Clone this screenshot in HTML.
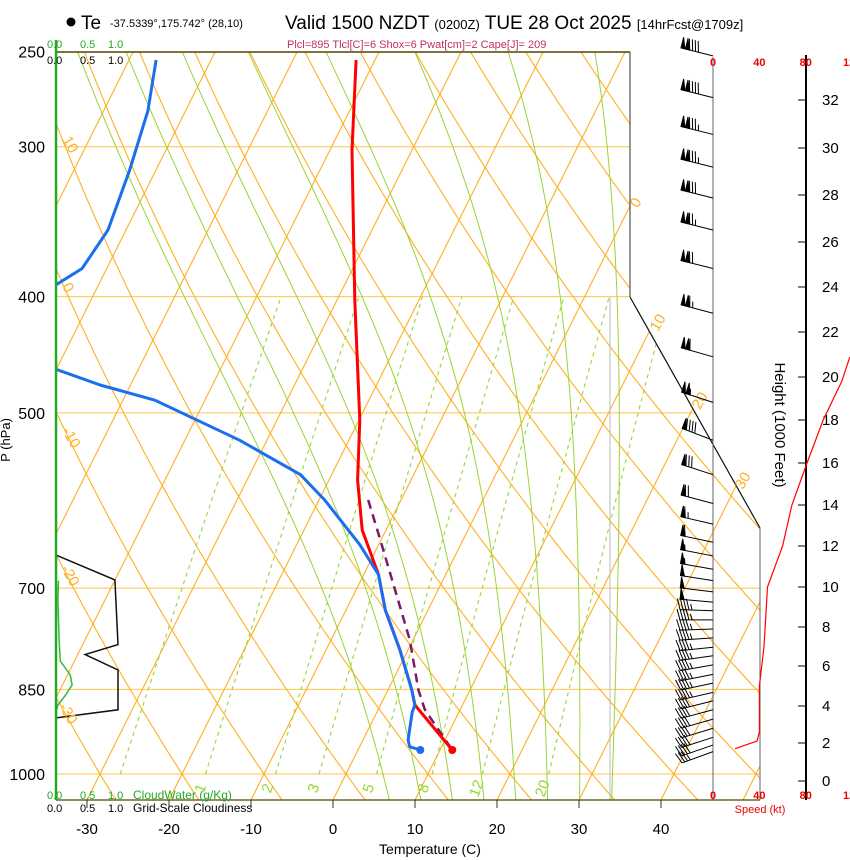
<!DOCTYPE html>
<html><head><meta charset="utf-8"><style>
html,body{margin:0;padding:0;background:#fff;}
svg{display:block;font-family:"Liberation Sans",sans-serif;}
</style></head><body>
<svg id="c" width="850" height="860" viewBox="0 0 850 860" xmlns="http://www.w3.org/2000/svg">
<defs><clipPath id="clip"><polygon points="56,52 630,52 630,297 760,528 760,800 56,800"/></clipPath>
<clipPath id="clipR"><rect x="700" y="40" width="150" height="770"/></clipPath></defs>
<g id="bg" clip-path="url(#clip)"></g>
<g id="fg"></g>
<circle cx="71" cy="22" r="4.5" fill="#000"/>
<text x="81" y="29" font-size="19">Te</text>
<text x="110" y="27" font-size="11">-37.5339°,175.742° (28,10)</text>
<text x="285" y="29" font-size="19">Valid 1500 NZDT <tspan font-size="13">(0200Z)</tspan> TUE 28 Oct 2025 <tspan font-size="13">[14hrFcst@1709z]</tspan></text>
<text x="287" y="48" font-size="11" fill="#c0306a">Plcl=895 Tlcl[C]=6 Shox=6 Pwat[cm]=2 Cape[J]= 209</text>
<text x="10" y="440" font-size="13" transform="rotate(-90 10 440)" text-anchor="middle">P (hPa)</text>
<text x="775" y="425" font-size="15" transform="rotate(90 775 425)" text-anchor="middle">Height (1000 Feet)</text>
<text x="430" y="854" font-size="14" text-anchor="middle">Temperature (C)</text>
<text x="760" y="813" font-size="11" fill="#e00" text-anchor="middle">Speed (kt)</text>
<g font-size="11">
<text x="47" y="48" fill="#2a2">0.0</text><text x="80" y="48" fill="#2a2">0.5</text><text x="108" y="48" fill="#2a2">1.0</text>
<text x="47" y="64">0.0</text><text x="80" y="64">0.5</text><text x="108" y="64">1.0</text>
<text x="47" y="799" fill="#2a2">0.0</text><text x="80" y="799" fill="#2a2">0.5</text><text x="108" y="799" fill="#2a2">1.0</text><text x="133" y="799" fill="#2a2" font-size="12">CloudWater (g/Kg)</text>
<text x="47" y="812">0.0</text><text x="80" y="812">0.5</text><text x="108" y="812">1.0</text><text x="133" y="812" font-size="12">Grid-Scale Cloudiness</text>
</g>
</svg>
<script>
// ---- data ----
const pressureTicks=[250,300,400,500,700,850,1000];
const tempTicks=[-30,-20,-10,0,10,20,30,40];
const isotherms=[-120,-110,-100,-90,-80,-70,-60,-50,-40,-30,-20,-10,0,10,20,30,40,50];
const dryAdiabats=[-60,-50,-40,-30,-20,-10,0,10,20,30,40,50,60,70,80,90,100,110,120,130,140,150,160];
const moistAdiabats=[4.5,8.5,12.5,16.5,20.5,24.5,28.5,32.5];
const mixRatios=[0.4,1,2,3,5,8,12,20];
const tempP=[254,302,403,507,569,626,682,730,788,851,876,955];
const tempT=[-42.3,-37.3,-27.8,-19.9,-16.5,-12.9,-8.2,-5.2,-1.0,2.9,4.2,11.5];
const dewP=[254,280,314,352,379,391,420,460,474,488,527,563,591,644,682,730,788,851,876,888,937,949,955];
const dewT=[-66.7,-64.6,-63.2,-62.2,-63.0,-65.2,-75,-60,-53.7,-46.1,-33.3,-23.8,-19.3,-12.3,-8.2,-5.2,-1.0,2.9,4.2,4.3,5.5,6.1,7.6];
const parcelP=[591,638,703,773,851,884,955];
const parcelT=[-14.0,-10.1,-5.2,-0.4,3.7,5.7,11.5];
const cloudP=[657,689,780,795,819,884,898];
const cloudFrac=[0,0.95,1.0,0.47,1.0,1.0,0];
const cwP=[690,715,773,805,827,843,860,876,888,960];
const cwVal=[0.04,0.03,0.05,0.07,0.23,0.26,0.15,0.03,0,0];
const barbP=[252,273,293,312,331,352,379,413,449,490,527,563,595,619,641,658,675,690,705,719,731,744,757,770,784,797,811,826,840,855,869,884,900,916,932,946,958];
const barbSpd=[140,140,135,135,130,125,120,115,110,105,90,80,70,65,60,55,55,50,50,50,45,45,45,45,45,45,45,45,45,45,40,40,40,40,40,40,35];
const barbDir=[284,284,284,284,284,284,284,285,286,288,291,288,285,283,282,281,280,279,277,275,272,270,268,266,264,262,260,259,258,257,256,255,254,253,252,251,250];
const heightTicks=[0,2,4,6,8,10,12,14,16,18,20,22,24,26,28,30,32];
const heightTickY=[781,743,706,666,627,587,546,505,463,420,377,332,287,242,195,148,100];
const speedH=[1.7,2.1,2.6,5,7,10,12,14,16,18,19.8,20.9];
const speedKt=[19,38,40,40,44,47,60,68,81,95,111,118];

// ---- axes ----
const yP=p=>774+521*Math.log(p/1000);
const xT=(T,y)=>333+8.2*T+0.5*(800-y);
const xCloud=v=>56+62*v;
const xSpd=s=>713+1.16*s;
function yH(h){for(let i=0;i<heightTicks.length-1;i++){if(h<=heightTicks[i+1]){const f=(h-heightTicks[i])/(heightTicks[i+1]-heightTicks[i]);return heightTickY[i]+f*(heightTickY[i+1]-heightTickY[i]);}}const n=heightTicks.length;return heightTickY[n-1]+(h-heightTicks[n-1])*(heightTickY[n-1]-heightTickY[n-2])/2;}
const NS='http://www.w3.org/2000/svg';
function mk(tag,attrs,parent){const e=document.createElementNS(NS,tag);for(const k in attrs)e.setAttribute(k,attrs[k]);parent.appendChild(e);return e;}
const bg=document.getElementById('bg'),fg=document.getElementById('fg');
function pathFrom(pts){return pts.map((q,i)=>(i?'L':'M')+q[0].toFixed(1)+','+q[1].toFixed(1)).join('');}
const pLevels=[];for(let p=1060;p>=240;p-=5)pLevels.push(p);

pressureTicks.forEach(p=>{const y=yP(p);
 const l=mk('line',{x1:56,x2:770,y1:y,y2:y,stroke:'#ffc44a','stroke-width':1},bg);
 });
isotherms.forEach(T=>{const l=mk('line',{x1:xT(T,810),y1:810,x2:xT(T,40),y2:40,stroke:'#ffb020','stroke-width':1.1},bg);
 });
dryAdiabats.forEach(th=>{const pts=pLevels.map(p=>{const y=yP(p);const T=(th+273.15)*Math.pow(p/1000,0.286)-273.15;return [xT(T,y),y];});
 const e=mk('path',{d:pathFrom(pts),fill:'none',stroke:'#ffb020','stroke-width':1.1},bg);
 });
function rs(T,p){const es=6.112*Math.exp(17.67*T/(T+243.5));return 0.622*es/(p-es);}
function dTdp(T,p){const Tk=T+273.15,r=rs(T,p);return (287*Tk+2.5e6*r)/(p*(1004+2.5e6*2.5e6*r*0.622/(287*Tk*Tk)));}
moistAdiabats.forEach(t0=>{let Tb=t0;for(let q=1000;q<1060;q+=1){Tb+=dTdp(Tb,q);}
 let T=Tb,pts=[];
 for(let p=1060;p>=240;p-=1){const y=yP(p);if(p%5===0)pts.push([xT(T,y),y]);T-=dTdp(T,p);}
 const e=mk('path',{d:pathFrom(pts),fill:'none',stroke:'#99d433','stroke-width':1},bg);
 });
mixRatios.forEach(w=>{const pts=[];for(let p=1000;p>=400;p-=5){const es=w*p/(622+w);const L=Math.log(es/6.112);const T=243.5*L/(17.67-L);const y=yP(p);pts.push([xT(T,y),y]);}
 const e=mk('path',{d:pathFrom(pts),fill:'none',stroke:'#99d433','stroke-width':1.1,'stroke-dasharray':'4,4'},bg);
 });
let gv=mk('line',{x1:610,x2:610,y1:297,y2:800,stroke:'#bbb','stroke-width':1},bg);


let cl=mk('path',{d:pathFrom(cloudP.map((p,i)=>[xCloud(cloudFrac[i]),yP(p)])),fill:'none',stroke:'#111','stroke-width':1.5},bg);

let cw=mk('path',{d:pathFrom(cwP.map((p,i)=>[xCloud(cwVal[i]),yP(p)])),fill:'none',stroke:'#3b3','stroke-width':1.5},bg);


let pc=mk('path',{d:pathFrom(parcelP.map((p,i)=>[xT(parcelT[i],yP(p)),yP(p)])),fill:'none',stroke:'#7a1a6a','stroke-width':2.5,'stroke-dasharray':'9,6'},bg);

let tp=mk('path',{d:pathFrom(tempP.map((p,i)=>[xT(tempT[i],yP(p)),yP(p)])),fill:'none',stroke:'#f00','stroke-width':3,'stroke-linejoin':'round'},bg);

let dp=mk('path',{d:pathFrom(dewP.map((p,i)=>[xT(dewT[i],yP(p)),yP(p)])),fill:'none',stroke:'#1a6ef0','stroke-width':3,'stroke-linejoin':'round'},bg);

{const n=tempP.length-1,y=yP(tempP[n]);let c=mk('circle',{cx:xT(tempT[n],y),cy:y,r:4,fill:'#f00'},fg);}
{const n=dewP.length-1,y=yP(dewP[n]);let c=mk('circle',{cx:xT(dewT[n],y),cy:y,r:4,fill:'#1a6ef0'},fg);}

[[56,52,630,52,'#554400',1.5],[630,52,630,297,'#333',1],[630,297,760,528,'#111',1.2],[760,528,760,800,'#666',1],[713,57,713,800,'#666',1],[56,800,760,800,'#554400',1.2]].forEach(a=>{const l=mk('line',{x1:a[0],y1:a[1],x2:a[2],y2:a[3],stroke:a[4],'stroke-width':a[5]},fg);});
let la=mk('line',{x1:56,y1:40,x2:56,y2:800,stroke:'#2a2','stroke-width':2.5},fg);
let ha=mk('line',{x1:806,y1:55,x2:806,y2:800,stroke:'#000','stroke-width':2},fg);

pressureTicks.forEach(p=>{const t=mk('text',{x:45,y:yP(p)+6,'font-size':16,'text-anchor':'end'},fg);t.textContent=p;});
tempTicks.forEach(T=>{const x=xT(T,800);const l=mk('line',{x1:x,x2:x,y1:800,y2:808,stroke:'#333'},fg);
 const t=mk('text',{x:x,y:834,'font-size':15,'text-anchor':'middle'},fg);t.textContent=T;});
heightTicks.forEach((h,i)=>{const y=heightTickY[i];const l=mk('line',{x1:798,x2:806,y1:y,y2:y,stroke:'#000'},fg);
 const t=mk('text',{x:822,y:y+5,'font-size':15},fg);t.textContent=h;});
[0,40,80,120].forEach(s=>{[66,799].forEach(y=>{const t=mk('text',{x:xSpd(s),y:y,'font-size':11,'font-weight':'bold',fill:'#e00','text-anchor':'middle'},fg);t.textContent=s;});});

function lab(txt,x,y,rot,col,name){const t=mk('text',{x:x,y:y,'font-size':15,fill:col,'text-anchor':'middle',transform:`rotate(${rot} ${x} ${y})`},fg);t.textContent=txt;}
[['10',66,147],['0',64,290],['-10',67,440],['-20',66,578],['-30',64,716]].forEach(a=>lab(a[0],a[1],a[2],60,'#ffb020','dry-adiabat-label'));
[['0',640,205],['10',662,325],['20',704,403],['30',747,483]].forEach(a=>lab(a[0],a[1],a[2],-60,'#ffb020','isotherm-label'));
[['1',205,790],['2',272,790],['3',318,790],['5',373,790],['8',428,790],['12',481,790],['20',547,790]].forEach(a=>lab(a[0],a[1],a[2],-70,'#99d433','mixing-ratio-label'));

barbP.forEach((p,i)=>{const y0=yP(p),x0=713;const d=barbDir[i]*Math.PI/180;const ux=Math.sin(d),uy=-Math.cos(d);const px=-uy,py=ux;
 const g=mk('g',{stroke:'#000',fill:'#000','stroke-width':1},fg);
 
 
 const L=33;mk('line',{x1:x0,y1:y0,x2:x0+ux*L,y2:y0+uy*L},g);
 let s=Math.round(barbSpd[i]/5)*5,pos=L;
 while(s>=50){const bx=x0+ux*pos,by=y0+uy*pos;const cx=x0+ux*(pos-4),cy=y0+uy*(pos-4);mk('polygon',{points:`${bx},${by} ${cx},${cy} ${bx+px*11},${by+py*11}`},g);pos-=4.5;s-=50;}
 while(s>=10){const bx=x0+ux*pos,by=y0+uy*pos;mk('line',{x1:bx,y1:by,x2:bx+px*11+ux*3,y2:by+py*11+uy*3},g);pos-=3;s-=10;}
 if(s>=5){const bx=x0+ux*pos,by=y0+uy*pos;mk('line',{x1:bx,y1:by,x2:bx+px*6+ux*1.5,y2:by+py*6+uy*1.5},g);}
});
let sp=mk('path',{d:pathFrom(speedH.map((h,i)=>[xSpd(speedKt[i]),yH(h)])),fill:'none',stroke:'#f00','stroke-width':1.2,'clip-path':'url(#clipR)'},fg);

</script>
</body></html>
